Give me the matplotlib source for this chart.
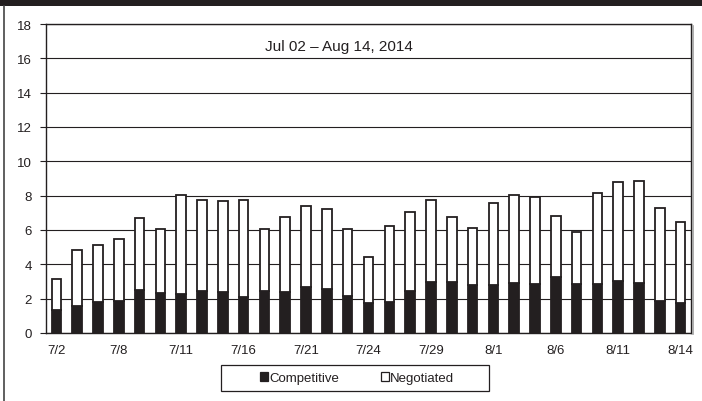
import matplotlib
matplotlib.use("Agg")
import matplotlib.pyplot as plt
from matplotlib.patches import Patch, Rectangle
from matplotlib.lines import Line2D

# trading days, Jul 2 - Aug 14 2014
dates = ["7/2", "7/3", "7/7", "7/8", "7/9", "7/10", "7/11", "7/14", "7/15",
         "7/16", "7/17", "7/18", "7/21", "7/22", "7/23", "7/24", "7/25",
         "7/28", "7/29", "7/30", "7/31", "8/1", "8/4", "8/5", "8/6", "8/7",
         "8/8", "8/11", "8/12", "8/13", "8/14"]
competitive = [1.36, 1.59, 1.78, 1.84, 2.50, 2.34, 2.29, 2.42, 2.38, 2.07,
               2.42, 2.38, 2.69, 2.54, 2.17, 1.74, 1.78, 2.46, 2.98, 2.95,
               2.77, 2.81, 2.93, 2.85, 3.28, 2.87, 2.83, 3.02, 2.93, 1.88,
               1.74]
negotiated = [1.76, 3.27, 3.37, 3.63, 4.21, 3.69, 5.73, 5.31, 5.29, 5.66,
              3.61, 4.36, 4.71, 4.71, 3.90, 2.68, 4.44, 4.56, 4.77, 3.79,
              3.33, 4.77, 5.13, 5.06, 3.56, 3.04, 5.33, 5.76, 5.95, 5.41,
              4.75]
yticks = list(range(0, 19, 2))

INK = "#231f20"
W, H = 702, 402

plt.rcParams["font.family"] = ["Liberation Sans", "DejaVu Sans"]

fig = plt.figure(figsize=(W / 100, H / 100), dpi=100)
ax = fig.add_axes([46 / W, 1 - 334 / H, (691 - 46) / W, (334 - 25) / H])

x = list(range(len(dates)))
ax.bar(x, competitive, width=0.46, color=INK, edgecolor=INK, linewidth=1.3)
ax.bar(x, negotiated, bottom=competitive, width=0.46, color="white",
       edgecolor=INK, linewidth=1.3)

ax.set_xlim(-0.5, len(dates) - 0.5)
ax.set_ylim(0, 18)
ax.set_yticks(yticks)
ax.set_xticks(x[::3], dates[::3])
ax.set_axisbelow(True)
ax.yaxis.grid(True, color=INK, linewidth=0.8)

ax.tick_params(axis="y", length=4, width=0.8, color=INK, pad=6,
               labelsize=9.5, labelcolor=INK)
ax.tick_params(axis="x", length=0, pad=8, labelsize=9.5, labelcolor=INK)
for sp in ax.spines.values():
    sp.set_color(INK)
    sp.set_linewidth(1.0)

ax.text(339 / W, 1 - 47 / H, "Jul 02 \u2013 Aug 14, 2014", transform=fig.transFigure,
        ha="center", va="center", fontsize=11, color=INK)

# header band, left rule and right-hand shadow of the plot box
fig.patches.append(Rectangle((0, 1 - 7 / H), 1, 7 / H, transform=fig.transFigure,
                             facecolor=INK, edgecolor="none"))
fig.lines.append(Line2D([3.5 / W, 3.5 / W], [0, 1 - 7 / H], transform=fig.transFigure,
                        color="#444444", linewidth=1.2))
fig.lines.append(Line2D([693 / W, 693 / W], [1 - 335 / H, 1 - 27 / H],
                        transform=fig.transFigure, color="#a0a0a0", linewidth=1.2))

# legend with its own box
handles = [Patch(facecolor=INK, edgecolor=INK, linewidth=0.9),
           Patch(facecolor="white", edgecolor=INK, linewidth=0.9)]
fig.legend(handles, ["Competitive", "Negotiated"], loc="center",
           bbox_to_anchor=(357 / W, 1 - 379 / H), ncol=2, frameon=False,
           fontsize=9.5, handlelength=0.6, handleheight=0.6,
           handletextpad=0.1, columnspacing=3.2, labelcolor=INK)
fig.patches.append(Rectangle((221 / W, 1 - 392 / H), (489 - 221) / W, 26 / H,
                             transform=fig.transFigure, facecolor="none",
                             edgecolor=INK, linewidth=0.9))

fig.savefig("out.png", dpi=100)
